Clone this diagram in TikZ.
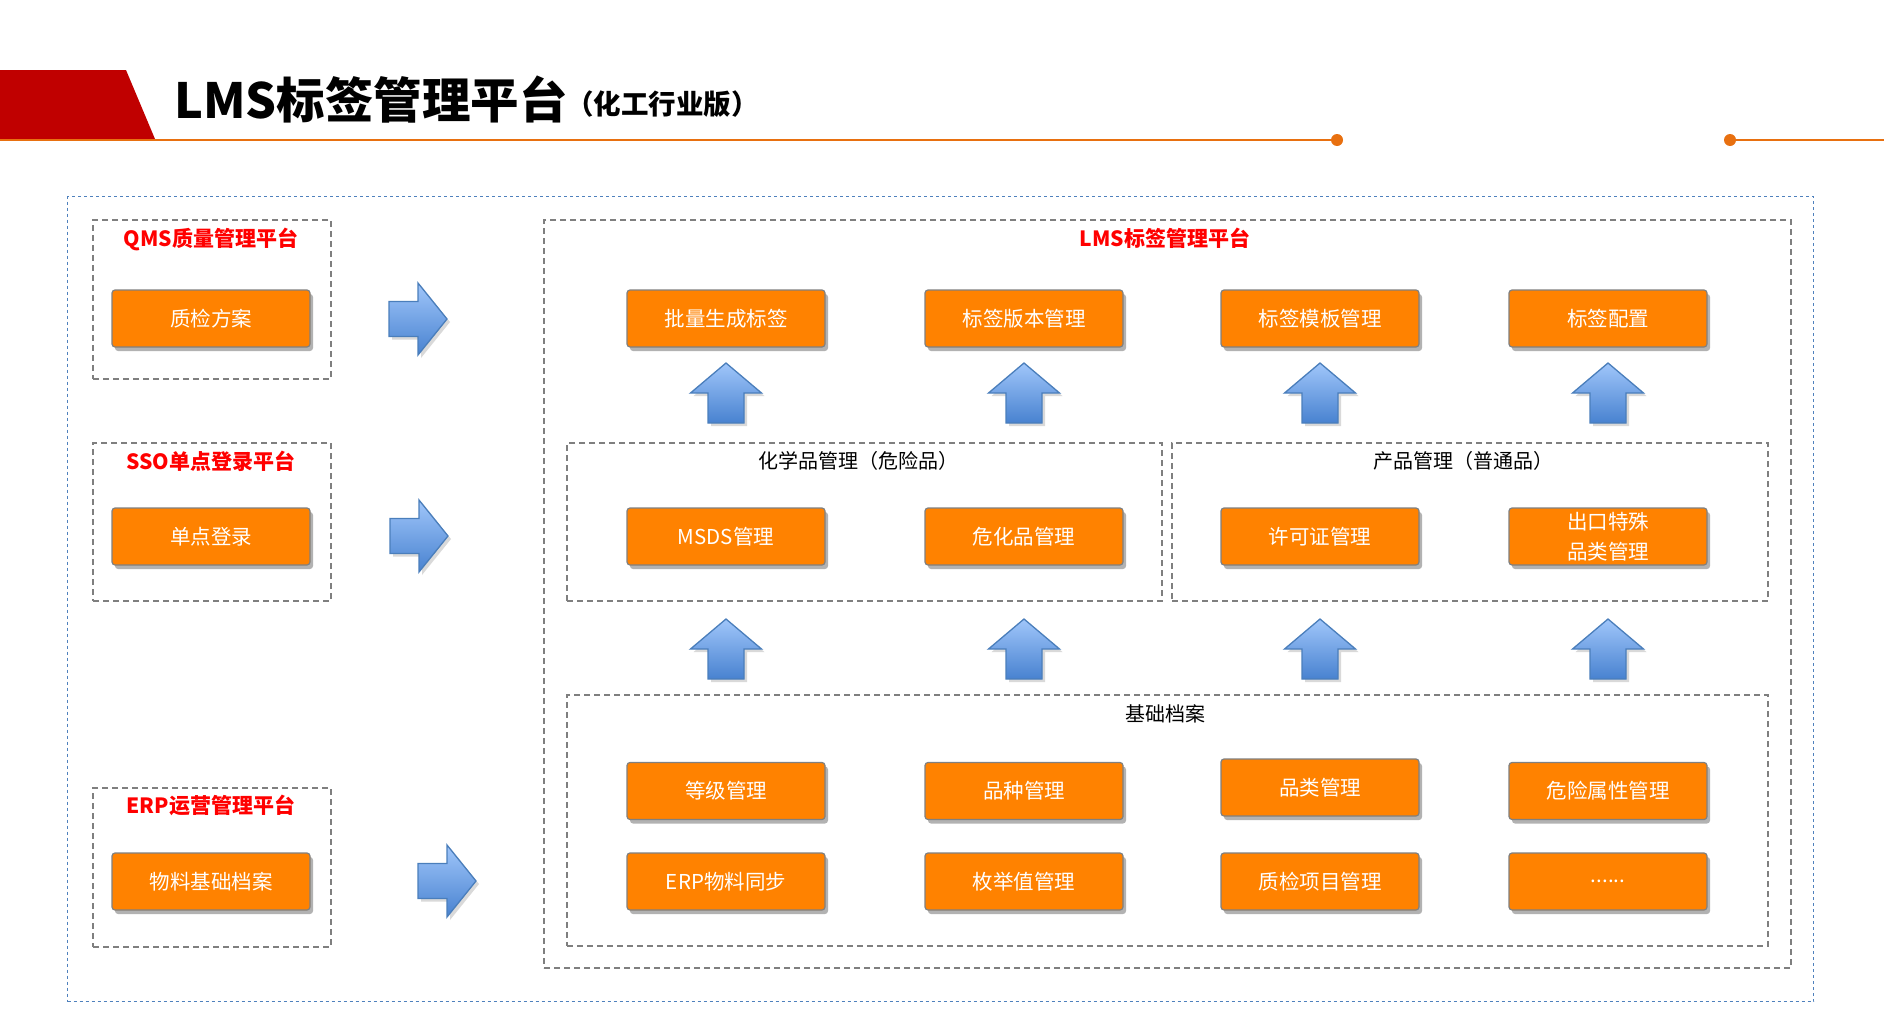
\documentclass[tikz,border=0pt]{standalone}
\usepackage{fontspec}
\setmainfont{Noto Sans CJK SC}
\usetikzlibrary{shadows}
\definecolor{hdrred}{RGB}{192,0,0}
\definecolor{lineor}{RGB}{232,112,16}
\definecolor{boxor}{RGB}{255,130,0}
\definecolor{boxedge}{RGB}{128,128,128}
\definecolor{dashgray}{RGB}{127,127,127}
\definecolor{arrtop}{RGB}{160,198,250}
\definecolor{arrbot}{RGB}{72,130,208}
\definecolor{arredge}{RGB}{74,126,187}
\definecolor{outerblue}{RGB}{79,129,189}
\tikzset{
 obox/.style={draw=boxedge, line width=1.2pt, fill=boxor, rounded corners=3pt,
   minimum width=198pt, minimum height=57pt, inner sep=0pt, text=white,
   font=\fontsize{20.5}{30}\selectfont, align=center,
   drop shadow={shadow xshift=3pt, shadow yshift=-4pt, opacity=0.3, fill=black}},
 grp/.style={draw=dashgray, line width=2pt, dash pattern=on 6pt off 4pt, inner sep=0pt, anchor=north west},
 redtitle/.style={text=red, font=\fontsize{21}{24}\selectfont\bfseries, inner sep=0pt},
 grptitle/.style={text=black, font=\fontsize{20}{24}\selectfont, inner sep=0pt},
 blockarrow/.style={draw=arredge, line width=1.3pt, top color=arrtop, bottom color=arrbot},
 arrshadow/.style={fill=black, opacity=0.15},
 uparrow/.pic={
   \path[arrshadow] (3,3) -- (38.5,33) -- (21,33) -- (21,63) -- (-15,63) -- (-15,33) -- (-32.5,33) -- cycle;
   \path[blockarrow] (0,0) -- (35.5,30) -- (18,30) -- (18,60) -- (-18,60) -- (-18,30) -- (-35.5,30) -- cycle;
 },
 rightarrow/.pic={
   \path[arrshadow] (3,3) -- (-26,39) -- (-26,20.5) -- (-55,20.5) -- (-55,-14.5) -- (-26,-14.5) -- (-26,-33) -- cycle;
   \path[blockarrow] (0,0) -- (-29,36) -- (-29,17.5) -- (-58,17.5) -- (-58,-17.5) -- (-29,-17.5) -- (-29,-36) -- cycle;
 },
}
\begin{document}
\begin{tikzpicture}[x=1pt,y=-1pt]
\useasboundingbox (0,0) rectangle (1884,1020);
% header
\fill[hdrred] (0,70) -- (126,70) -- (155,139) -- (0,139) -- cycle;
\coordinate (l0) at (0,140);
\coordinate (dl) at (1337,140);
\coordinate (dr) at (1730,140);
\coordinate (l1) at (1884,140);
\draw[lineor, line width=2.5pt] (l0) -- (dl);
\draw[lineor, line width=2.5pt] (dr) -- (l1);
\fill[lineor] (dl) circle (6);
\fill[lineor] (dr) circle (6);
\node[anchor=base west, inner sep=0pt, font=\fontsize{48.5}{56}\selectfont\bfseries] (title) at (174,118) {LMS标签管理平台};
\node[anchor=base west, inner sep=0pt, font=\fontsize{27.5}{32}\selectfont\bfseries] (sub) at ([xshift=-2pt,yshift=4pt]title.base east) {（化工行业版）};
% outer frame
\node[draw=outerblue, line width=1pt, dash pattern=on 3pt off 3pt, anchor=north west, inner sep=0pt,
  minimum width=1746pt, minimum height=805pt] (frame) at (67,196) {};
% left groups
\node[grp, minimum width=238pt, minimum height=159pt] (qms) at (92,219) {};
\node[grp, minimum width=238pt, minimum height=158pt] (sso) at (92,442) {};
\node[grp, minimum width=238pt, minimum height=159pt] (erp) at (92,787) {};
\node[redtitle] (qmst) at (211,239) {QMS质量管理平台};
\node[redtitle] (ssot) at (211,461) {SSO单点登录平台};
\node[redtitle] (erpt) at (211,805) {ERP运营管理平台};
\node[obox] (q1) at (211,318.5) {质检方案};
\node[obox] (s1) at (211,536.5) {单点登录};
\node[obox] (e1) at (211,881.5) {物料基础档案};
% LMS groups
\node[grp, minimum width=1247pt, minimum height=748pt] (lms) at (543,219) {};
\node[grp, minimum width=595pt, minimum height=158pt] (chem) at (566,442) {};
\node[grp, minimum width=596pt, minimum height=158pt] (prod) at (1171,442) {};
\node[grp, minimum width=1201pt, minimum height=251pt] (base) at (566,694) {};
\node[redtitle] (lmst) at (1165,238) {LMS标签管理平台};
\node[grptitle] (chemt) at (858,461) {化学品管理（危险品）};
\node[grptitle] (prodt) at (1463,461) {产品管理（普通品）};
\node[grptitle] (baset) at (1165,714) {基础档案};
% top row
\node[obox] (t1) at (726,318.5) {批量生成标签};
\node[obox] (t2) at (1024,318.5) {标签版本管理};
\node[obox] (t3) at (1320,318.5) {标签模板管理};
\node[obox] (t4) at (1608,318.5) {标签配置};
% middle row
\node[obox] (m1) at (726,536.5) {MSDS管理};
\node[obox] (m2) at (1024,536.5) {危化品管理};
\node[obox] (m3) at (1320,536.5) {许可证管理};
\node[obox] (m4) at (1608,536.5) {出口特殊\\品类管理};
% base rows
\node[obox] (b1) at (726,791) {等级管理};
\node[obox] (b2) at (1024,791) {品种管理};
\node[obox] (b3) at (1320,787.5) {品类管理};
\node[obox] (b4) at (1608,791) {危险属性管理};
\node[obox] (c1) at (726,881.5) {ERP物料同步};
\node[obox] (c2) at (1024,881.5) {枚举值管理};
\node[obox] (c3) at (1320,881.5) {质检项目管理};
\node[obox] (c4) at (1608,881.5) {......};
% arrows
\foreach \x in {726,1024,1320,1608} {
  \pic at (\x,363) {uparrow};
  \pic at (\x,619) {uparrow};
}
\pic at (447,319) {rightarrow};
\pic at (448,536) {rightarrow};
\pic at (476,881) {rightarrow};
\end{tikzpicture}
\end{document}
